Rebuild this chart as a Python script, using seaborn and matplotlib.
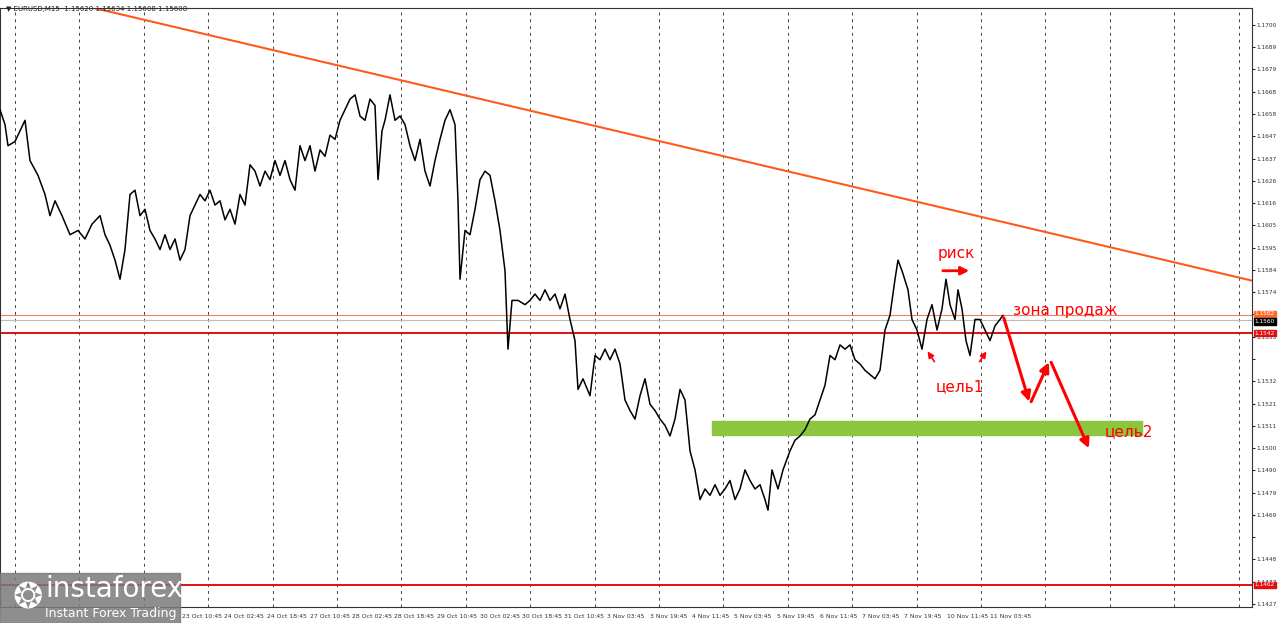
import numpy as np
import pandas as pd
import matplotlib
matplotlib.use("Agg")
import matplotlib.pyplot as plt
import seaborn as sns

# price path (x = bar position, in chart pixels)
bar_x = [0, 5, 8, 15, 20, 25, 30, 38, 45, 50, 55, 62, 70, 78, 85, 92, 100, 105, 110, 115,
         120, 125, 130, 135, 140, 145, 150, 155, 160, 165, 170, 175, 180, 185, 190, 195, 200, 205, 210, 215,
         220, 225, 230, 235, 240, 245, 250, 255, 260, 265, 270, 275, 280, 285, 290, 295, 300, 305, 310, 315,
         320, 325, 330, 335, 340, 345, 350, 355, 360, 365, 370, 375, 378, 382, 385, 390, 395, 400, 405, 410,
         415, 420, 425, 430, 435, 440, 445, 450, 455, 458, 460, 465, 470, 475, 480, 485, 490, 495, 500, 505,
         508, 512, 518, 525, 530, 535, 540, 545, 550, 555, 560, 565, 570, 575, 578, 583, 590, 595, 600, 605,
         610, 615, 620, 625, 630, 635, 640, 645, 650, 655, 660, 665, 670, 675, 680, 685, 690, 695, 700, 705,
         710, 715, 720, 725, 730, 735, 740, 745, 750, 755, 760, 765, 768, 772, 778, 783, 790, 795, 800, 805,
         810, 815, 820, 825, 830, 835, 840, 845, 850, 855, 860, 865, 870, 875, 880, 885, 890, 895, 898, 902,
         908, 912, 917, 922, 927, 932, 937, 942, 946, 950, 955, 958, 962, 966, 970, 975, 980, 985, 990, 995,
         1000, 1003]
price = [1.1660, 1.1653, 1.1643, 1.1645, 1.1650, 1.1655, 1.1636, 1.1629, 1.1620, 1.1610, 1.1617, 1.1610, 1.1601, 1.1603, 1.1599, 1.1606, 1.1610, 1.1601, 1.1596, 1.1589,
         1.1580, 1.1594, 1.1620, 1.1622, 1.1610, 1.1613, 1.1603, 1.1599, 1.1594, 1.1601, 1.1594, 1.1599, 1.1589, 1.1594, 1.1610, 1.1615, 1.1620, 1.1617, 1.1622, 1.1615,
         1.1617, 1.1608, 1.1613, 1.1606, 1.1620, 1.1615, 1.1634, 1.1631, 1.1624, 1.1631, 1.1627, 1.1636, 1.1629, 1.1636, 1.1627, 1.1622, 1.1643, 1.1636, 1.1643, 1.1631,
         1.1641, 1.1638, 1.1648, 1.1646, 1.1655, 1.1660, 1.1665, 1.1667, 1.1657, 1.1655, 1.1665, 1.1662, 1.1627, 1.1650, 1.1655, 1.1667, 1.1655, 1.1657, 1.1653, 1.1643,
         1.1636, 1.1646, 1.1631, 1.1624, 1.1636, 1.1646, 1.1655, 1.1660, 1.1653, 1.1617, 1.1580, 1.1603, 1.1601, 1.1613, 1.1627, 1.1631, 1.1629, 1.1617, 1.1603, 1.1584,
         1.1547, 1.1570, 1.1570, 1.1568, 1.1570, 1.1573, 1.1570, 1.1575, 1.1570, 1.1573, 1.1566, 1.1573, 1.1561, 1.1551, 1.1528, 1.1533, 1.1525, 1.1544, 1.1542, 1.1547,
         1.1542, 1.1547, 1.1540, 1.1523, 1.1518, 1.1514, 1.1525, 1.1533, 1.1521, 1.1518, 1.1514, 1.1511, 1.1506, 1.1514, 1.1528, 1.1523, 1.1499, 1.1490, 1.1476, 1.1481,
         1.1478, 1.1483, 1.1478, 1.1481, 1.1485, 1.1476, 1.1481, 1.1490, 1.1485, 1.1481, 1.1483, 1.1476, 1.1471, 1.1490, 1.1481, 1.1490, 1.1499, 1.1504, 1.1506, 1.1509,
         1.1514, 1.1516, 1.1523, 1.1530, 1.1544, 1.1542, 1.1549, 1.1547, 1.1549, 1.1542, 1.1540, 1.1537, 1.1535, 1.1533, 1.1537, 1.1556, 1.1563, 1.1580, 1.1589, 1.1584,
         1.1575, 1.1561, 1.1556, 1.1547, 1.1561, 1.1568, 1.1556, 1.1566, 1.1580, 1.1568, 1.1561, 1.1575, 1.1566, 1.1551, 1.1544, 1.1561, 1.1561, 1.1556, 1.1551, 1.1558,
         1.1561, 1.1563]

trend_x = [85, 1255]
trend_y = [1.1709, 1.1579]
levels = [1.15546, 1.14357]
level_labels = ["1.1542", "1.1462"]
zone_x = [712, 1142]
zone_y = [1.15064, 1.15129]
arrow_x = [1003, 1030, 1050, 1090]
arrow_y = [1.1563, 1.1521, 1.1542, 1.1499]

ytick_labels = ["1.1700", "1.1689", "1.1679", "1.1668", "1.1658", "1.1647", "1.1637", "1.1626", "1.1616",
                "1.1605", "1.1595", "1.1584", "1.1574", "", "1.1553", "", "1.1532", "1.1521", "1.1511",
                "1.1500", "1.1490", "1.1479", "1.1469", "", "1.1448", "1.1437", "1.1427"]
xtick_labels = ["23 Oct 10:45", "24 Oct 02:45", "24 Oct 18:45", "27 Oct 10:45", "28 Oct 02:45",
                "28 Oct 18:45", "29 Oct 10:45", "30 Oct 02:45", "30 Oct 18:45", "31 Oct 10:45",
                "3 Nov 03:45", "3 Nov 19:45", "4 Nov 11:45", "5 Nov 03:45", "5 Nov 19:45",
                "6 Nov 11:45", "7 Nov 03:45", "7 Nov 19:45", "10 Nov 11:45", "11 Nov 03:45"]

sns.set_style("white")
plt.rcParams['font.family'] = ['DejaVu Sans']

fig = plt.figure(figsize=(12.8, 6.23), dpi=100)
ax = fig.add_axes([0, 16 / 623, 1252 / 1280, 599 / 623])
ax.set_xlim(0, 1252)
ax.set_ylim(1.14253, 1.17080)

for gx in np.arange(15, 1252, 64.4):
    ax.axvline(gx, color="#444444", lw=0.7, ls=(0, (3, 4)), zorder=0)

df = pd.DataFrame({"x": bar_x, "price": price})
sns.lineplot(data=df, x="x", y="price", color="black", lw=1.1, ax=ax, zorder=3)

ax.plot(trend_x, trend_y, color="#ff5a1a", lw=1.5, zorder=2)
for lv in levels:
    ax.axhline(lv, color="#e01010", lw=1.4, zorder=2)
ax.axhline(1.15632, color="#f08060", lw=0.8, zorder=1)
ax.axhline(1.15608, color="#bbbbbb", lw=0.8, zorder=1)
ax.fill_between(zone_x, zone_y[0], zone_y[1], color="#8cc63f", zorder=2)

for i in range(len(arrow_x) - 1):
    ax.annotate("", xy=(arrow_x[i + 1], arrow_y[i + 1]), xytext=(arrow_x[i], arrow_y[i]),
                arrowprops=dict(arrowstyle="-|>", color="#ff0000", lw=2.2, mutation_scale=14), zorder=4)
ax.annotate("", xy=(972, 1.1584), xytext=(940, 1.1584),
            arrowprops=dict(arrowstyle="-|>", color="#ff0000", lw=2, mutation_scale=12))
ax.annotate("", xy=(926, 1.1547), xytext=(936, 1.1540),
            arrowprops=dict(arrowstyle="-|>", color="#ff0000", lw=1.2, mutation_scale=9))
ax.annotate("", xy=(988, 1.1547), xytext=(978, 1.1540),
            arrowprops=dict(arrowstyle="-|>", color="#ff0000", lw=1.2, mutation_scale=9))

red = "#ff0000"
ax.text(938, 1.1590, "риск", color=red, fontsize=11)
ax.text(1013, 1.1563, "зона продаж", color=red, fontsize=11)
ax.text(936, 1.1527, "цель1", color=red, fontsize=11)
ax.text(1105, 1.1506, "цель2", color=red, fontsize=11)

yt = [1.17118 - (25 + 22.27 * k) * 0.0000472 for k in range(len(ytick_labels))]
ax.yaxis.tick_right()
ax.set_yticks(yt)
ax.set_yticklabels(ytick_labels, fontsize=4.2, color="#333333")
ax.tick_params(axis="y", length=2, pad=1.5)
xt = [182 + 42.5 * k for k in range(len(xtick_labels))]
ax.set_xticks(xt)
ax.set_xticklabels(xtick_labels, fontsize=4.4, color="#333333", ha="left")
ax.tick_params(axis="x", length=3, pad=2)
ax.set_xlabel("")
ax.set_ylabel("")
for s in ax.spines.values():
    s.set_color("#333333")
    s.set_linewidth(0.8)

# right-hand price boxes
boxes = [(1.15636, "1.1562", "#ff6a2a"), (1.15600, "1.1560", "black"),
         (levels[0], level_labels[0], "#e01010"), (levels[1], level_labels[1], "#e01010")]
for yv, lab, c in boxes:
    ax.text(1.002, yv, lab, transform=ax.get_yaxis_transform(), fontsize=4.2, color="white",
            va="center", ha="left", bbox=dict(boxstyle="square,pad=0.15", fc=c, ec=c), clip_on=False)

fig.text(0.005, 0.985, "\u25BC EURUSD,M15  1.15620 1.15634 1.15608 1.15608", fontsize=5, color="#222222",
         va="center")

# watermark
fig.patches.append(plt.Rectangle((0, 0), 180 / 1280, 50 / 623, transform=fig.transFigure,
                                 color="#7a7a7a", alpha=0.85, zorder=5))
fig.text(45 / 1280, 34 / 623, "instaforex", fontsize=20, color="white", va="center", zorder=6)
fig.text(45 / 1280, 10 / 623, "Instant Forex Trading", fontsize=9, color="white", va="center", zorder=6)
fig.text(12 / 1280, 25 / 623, "\u2742", fontsize=26, color="white", va="center", zorder=6)

fig.savefig("out.png", dpi=100, facecolor="white")
